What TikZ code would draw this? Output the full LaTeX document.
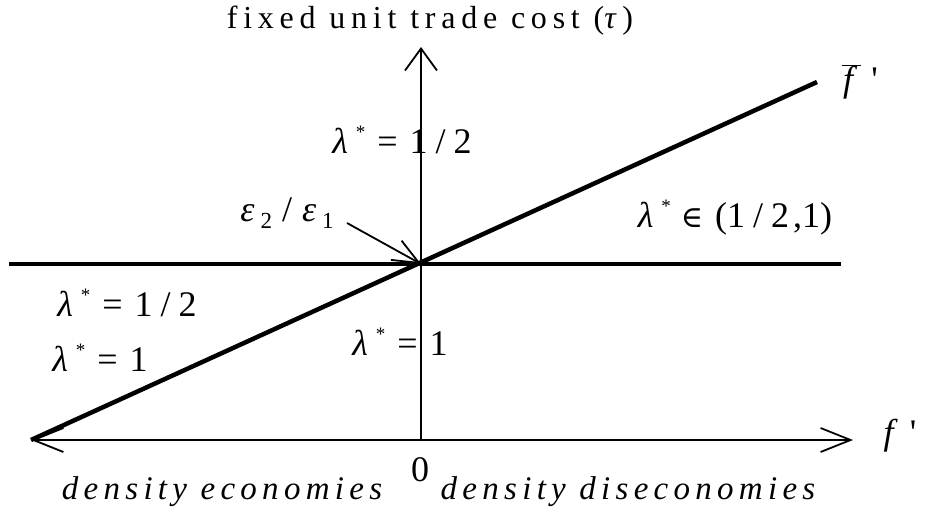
\documentclass[tikz,border=0pt]{standalone}
\usepackage{fontspec}
\setmainfont{Liberation Serif}
\newfontfamily\titlefont{Liberation Serif}[LetterSpace=18]
\newfontfamily\bottomfont{Liberation Serif}[LetterSpace=16]
\newfontfamily\plainfont{Liberation Serif}[Ligatures=TeXOff]
\newfontfamily\symbfont{DejaVu Serif}
\usetikzlibrary{arrows.meta}
\newcommand\lamstar{\textit{λ}\hspace{8pt}\raisebox{15pt}{\fontsize{19pt}{19pt}\selectfont *}}
\newcommand\epsub[1]{\textit{ε}\hspace{6pt}\raisebox{-7pt}{\fontsize{23pt}{23pt}\selectfont #1}}
\begin{document}
\begin{tikzpicture}[x=1pt,y=-1pt,
  axisline/.style={line width=1.8pt},
  boldline/.style={line width=4.5pt},
  barbs/.style={{Straight Barb[length=30pt,width=24pt,line width=1.8pt]}-{Straight Barb[length=30pt,width=24pt,line width=1.8pt]}},
  topbarb/.style={-{Straight Barb[length=22pt,width=32pt,line width=1.8pt]}},
  ptr/.style={line width=1.8pt,-{Straight Barb[length=26pt,width=22pt,line width=1.8pt]}},
  lab/.style={font=\fontsize{36pt}{40pt}\selectfont, inner sep=0pt}
]
\useasboundingbox (0,0) rectangle (933,506);
% coordinates
\coordinate (O) at (421,264);
\coordinate (L) at (31,440);
\coordinate (R) at (853,440);
\coordinate (B) at (421,440);
\coordinate (T) at (421,47);
\coordinate (HL) at (9,264);
\coordinate (HR) at (841,264);
\coordinate (DE) at (817,82);
\coordinate (epsstart) at (347,223);
% axes
\draw[axisline,topbarb] (B) -- (T);
\draw[axisline,barbs] (L) -- (R);
% bold lines
\draw[boldline] (HL) -- (HR);
\draw[boldline,line cap=butt] (L) -- (DE);
% pointer
\draw[ptr] (epsstart) -- (O);
% labels
\node[inner sep=0pt, anchor=base, font=\titlefont\fontsize{32pt}{34pt}\selectfont] (title) at (430,28) {fixed unit trade cost (\textit{τ})};
\node[lab] (upper) at (402,140) {\lamstar\hspace{12pt}=\hspace{12pt}1\hspace{8pt}/\hspace{8pt}2};
\node[lab] (eps) at (287,213) {\epsub{2}\hspace{10pt}/\hspace{10pt}\epsub{1}};
\node[lab] (mid) at (735,218) {\lamstar\hspace{10pt}{\symbfont\fontsize{30pt}{32pt}\selectfont ∈}\hspace{12pt}(1\hspace{8pt}/\hspace{8pt}2\hspace{4pt},1)};
\node[lab] (lowhalf) at (127,303) {\lamstar\hspace{12pt}=\hspace{12pt}1\hspace{8pt}/\hspace{8pt}2};
\node[lab] (lowone) at (100,358) {\lamstar\hspace{12pt}=\hspace{12pt}1};
\node[lab] (cone) at (400,342) {\lamstar\hspace{12pt}=\hspace{12pt}1};
\node[lab] (fbar) at (860,82) {\plainfont$\overline{\mbox{\hspace{1pt}\textit{f}\hspace{4pt}}}$\hspace{10pt}'};
\node[lab] (fp) at (900,436) {\plainfont\textit{f}\hspace{12pt}'};
\node[lab] (zero) at (420,470) {0};
\node[inner sep=0pt, font=\bottomfont\itshape\fontsize{33pt}{35pt}\selectfont] (de) at (222,492) {density economies};
\node[inner sep=0pt, font=\bottomfont\itshape\fontsize{33pt}{35pt}\selectfont] (dd) at (628,492) {density diseconomies};
\end{tikzpicture}
\end{document}
